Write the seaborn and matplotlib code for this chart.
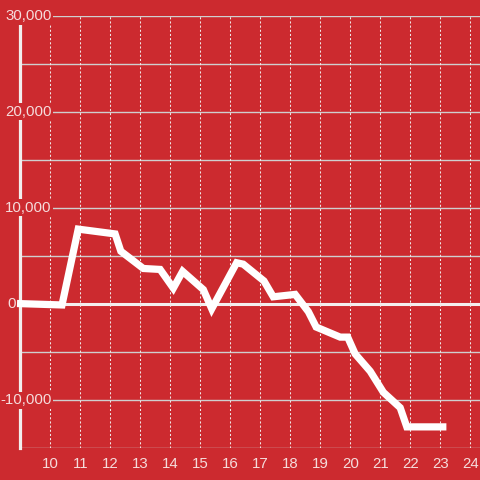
import numpy as np
import pandas as pd
import matplotlib
matplotlib.use("Agg")
import matplotlib.pyplot as plt
import seaborn as sns

# Data
x_values = [8.89, 10.39, 10.93, 12.16, 12.35, 13.1, 13.66, 14.1, 14.41, 15.1, 15.38,
            16.21, 16.43, 17.12, 17.43, 18.16, 18.6, 18.86, 19.66, 19.91, 20.16,
            20.66, 21.1, 21.66, 21.88, 23.2]
y_values = [50, -100, 7800, 7300, 5500, 3700, 3600, 1650, 3400, 1500, -500,
            4300, 4150, 2400, 750, 1000, -800, -2400, -3450, -3450, -5200,
            -7000, -9200, -10800, -12800, -12800]
x_ticks = list(range(10, 25))
x_tick_labels = [str(t) for t in x_ticks]
y_ticks = [-15000, -10000, -5000, 0, 5000, 10000, 15000, 20000, 25000, 30000]
y_label_values = [-10000, 0, 10000, 20000, 30000]
y_labels = ["-10,000", "0", "10,000", "20,000", "30,000"]

BG = "#cc2a2f"
TXT = "#f5dcdc"

sns.set_style("white")
plt.rcParams["font.family"] = ["Liberation Sans", "DejaVu Sans"]

fig = plt.figure(figsize=(4.8, 4.8), dpi=100, facecolor=BG)
ax = fig.add_axes([20.3 / 480, 32 / 480, (480 - 20.3) / 480, (448 - 16) / 480])
ax.set_facecolor(BG)

df = pd.DataFrame({"x": x_values, "y": y_values})

ax.set_xlim(9, 24.32)
ax.set_ylim(-15000, 30000)

# grid
ax.set_xticks(x_ticks)
ax.set_xticklabels(x_tick_labels)
ax.set_yticks(y_ticks)
ax.set_yticklabels([])
for v in y_ticks:
    if v == 0:
        ax.axhline(v, color="#f4eeee", lw=2.2, zorder=1)
    else:
        ax.axhline(v, color="#cfcfcf", lw=1.0, zorder=1)
for t in x_ticks:
    ax.axvline(t, color="#f0e6e6", lw=0.75, linestyle=(0, (2.0, 2.0)), zorder=1)

sns.lineplot(data=df, x="x", y="y", ax=ax, color="white", linewidth=5.2,
             sort=False, clip_on=False, zorder=5,
             solid_joinstyle="miter", solid_capstyle="butt")

for s in ["top", "right", "bottom"]:
    ax.spines[s].set_visible(False)
ax.spines["left"].set_color("#f2eeee")
ax.spines["left"].set_linewidth(2.3)
ax.spines["left"].set_zorder(2)

ax.tick_params(axis="x", length=0, pad=6.5, labelsize=10.8, labelcolor=TXT)
ax.tick_params(axis="y", length=0)
ax.set_xlabel("")
ax.set_ylabel("")

trans = ax.get_yaxis_transform()
for v, lab in zip(y_label_values, y_labels):
    xpos = (15.5 - 20.3) / 459.7 if v == 0 else (51.5 - 20.3) / 459.7
    ax.text(xpos, v, lab, transform=trans, ha="right", va="center",
            fontsize=10.8, color=TXT, zorder=3, clip_on=False,
            bbox=dict(boxstyle="square,pad=0.1", fc=BG, ec="none"))

fig.savefig("out.png", dpi=100, facecolor=BG)
